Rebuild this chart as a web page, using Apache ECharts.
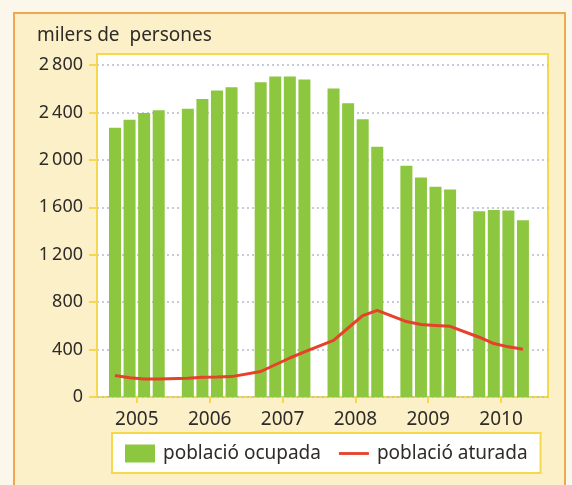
<!DOCTYPE html>
<html>
<head>
<meta charset="utf-8">
<script src="https://cdn.jsdelivr.net/npm/echarts@6/dist/echarts.min.js"></script>
<style>
  html, body { margin: 0; padding: 0; background: #fbf7ea; }
  #chart { width: 572px; height: 485px; }
</style>
</head>
<body>
<div id="chart"></div>
<script>
// years on the axis, 4 quarters each
var years = ['2005', '2006', '2007', '2008', '2009', '2010'];
var quarters = 4;
// thousands of people, per quarter
var ocupada = [2271, 2339, 2395, 2419, 2430, 2514, 2584, 2613,
               2655, 2703, 2703, 2678, 2601, 2478, 2343, 2111,
               1950, 1852, 1773, 1751, 1567, 1578, 1573, 1491];
var aturada = [181, 162, 152, 152, 158, 167, 169, 172,
               215, 272, 329, 380, 478, 582, 686, 730,
               636, 612, 604, 596, 504, 451, 423, 403];

var chartDom = document.getElementById('chart');
var myChart = echarts.init(chartDom);
var option;

// one empty slot between years
var slot = function (i) {
  return Math.floor(i / quarters) * (quarters + 1) + (i % quarters);
};
var barData = ocupada.map(function (v, i) { return [slot(i), v]; });
var lineData = aturada.map(function (v, i) { return [slot(i), v]; });

// plot box and slot scale (pixels)
var plotL = 97, plotR = 548, W = 572;
var xMin = -1.235, xMax = 29.72;
var pxSlot = (plotR - plotL) / (xMax - xMin);
// year bands: 5 slots each, centred between 2nd and 3rd quarter
var yearL = plotL + (1.5 - 2.5 - xMin) * pxSlot;
var yearR = yearL + years.length * (quarters + 1) * pxSlot;

var txt = '#2e2b28';
var yellow = '#f6d84c';
var font = 'Noto Sans';
var page = '#fbf7ea';

option = {
  backgroundColor: '#fcf0c9',
  animation: false,
  textStyle: { fontFamily: font },
  graphic: [
    // paper outside the frame
    { type: 'rect', silent: true, shape: { x: 0, y: 0, width: 572, height: 13 }, style: { fill: page } },
    { type: 'rect', silent: true, shape: { x: 0, y: 0, width: 14, height: 485 }, style: { fill: page } },
    { type: 'rect', silent: true, shape: { x: 565, y: 0, width: 7, height: 485 }, style: { fill: page } },
    { type: 'rect', silent: true, shape: { x: 14, y: 13, width: 551, height: 500 },
      style: { fill: null, stroke: '#efa851', lineWidth: 2 } }
  ],
  title: {
    text: 'milers de  persones',
    left: 32,
    top: 21,
    textStyle: { fontSize: 19, fontWeight: 'normal', color: txt, fontFamily: font }
  },
  legend: {
    left: 112,
    top: 433,
    padding: [11, 13, 10, 13],
    itemWidth: 30,
    itemHeight: 18,
    itemGap: 18,
    backgroundColor: '#ffffff',
    borderColor: yellow,
    borderWidth: 2,
    borderRadius: 0,
    textStyle: { fontSize: 19, color: txt, fontFamily: font, padding: [0, 0, 0, 3] },
    data: [
      { name: 'població ocupada', icon: 'rect' },
      { name: 'població aturada', icon: 'path://M0,0L32,0L32,3L0,3Z' }
    ]
  },
  grid: [
    // white frame
    { left: plotL, right: W - plotR, top: 54, bottom: 88, show: true,
      backgroundColor: '#ffffff', borderColor: yellow, borderWidth: 2 },
    // data
    { left: plotL, right: W - plotR, top: 65, bottom: 88 },
    // year labels
    { left: yearL, right: W - yearR, top: 65, bottom: 88 }
  ],
  xAxis: [
    { gridIndex: 0, type: 'value', show: false },
    {
      gridIndex: 1,
      type: 'value',
      min: xMin,
      max: xMax,
      splitLine: { show: false },
      axisLine: { show: false },
      axisTick: { show: false },
      axisLabel: { show: false }
    },
    {
      gridIndex: 2,
      type: 'category',
      data: years,
      axisLine: { show: false },
      axisTick: { show: true, alignWithLabel: true, length: 6, lineStyle: { color: yellow, width: 2 } },
      axisLabel: { margin: 13, fontSize: 19, color: txt, fontFamily: font }
    }
  ],
  yAxis: [
    { gridIndex: 0, type: 'value', show: false },
    {
      gridIndex: 1,
      type: 'value',
      min: 0,
      max: 2800,
      interval: 400,
      axisLine: { show: true, onZero: false, lineStyle: { color: yellow, width: 2 } },
      axisTick: { show: true, length: 8, lineStyle: { color: yellow, width: 2 } },
      axisLabel: {
        margin: 14,
        fontSize: 18,
        color: txt,
        fontFamily: font,
        formatter: function (v) {
          if (v >= 1000) {
            var r = String(v % 1000);
            while (r.length < 3) r = '0' + r;
            return Math.floor(v / 1000) + '\u2009' + r;
          }
          return String(v);
        }
      },
      splitLine: {
        show: true,
        lineStyle: { color: '#b3bacb', type: [2, 3], width: 1.5 }
      }
    },
    { gridIndex: 2, type: 'value', show: false }
  ],
  series: [
    {
      name: 'població ocupada',
      type: 'bar',
      xAxisIndex: 1,
      yAxisIndex: 1,
      barWidth: 12,
      itemStyle: { color: '#8dc63f' },
      data: barData
    },
    {
      name: 'població aturada',
      type: 'line',
      xAxisIndex: 1,
      yAxisIndex: 1,
      symbol: 'none',
      z: 5,
      lineStyle: { color: '#e5412b', width: 3 },
      itemStyle: { color: '#e5412b' },
      data: lineData
    }
  ]
};

option && myChart.setOption(option);
</script>
</body>
</html>
